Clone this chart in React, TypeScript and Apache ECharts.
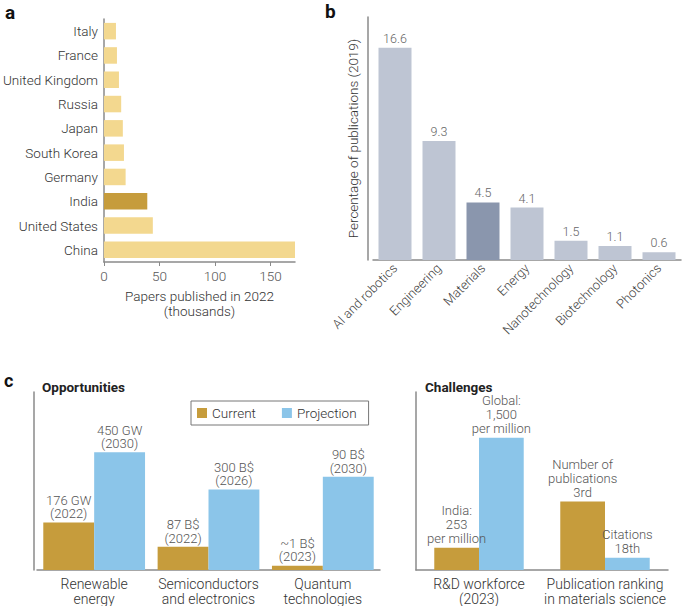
import React, { useEffect, useRef } from "react";
import * as echarts from "echarts";

// Panel a
const countries = ["Italy", "France", "United Kingdom", "Russia", "Japan", "South Korea", "Germany", "India", "United States", "China"];
const papers2022 = [10.8, 11.7, 13.5, 15.5, 17, 18, 19.5, 39, 44, 172];
const papersTicks = [0, 50, 100, 150];

// Panel b
const fields = ["AI and robotics", "Engineering", "Materials", "Energy", "Nanotechnology", "Biotechnology", "Photonics"];
const pubShare = [16.6, 9.3, 4.5, 4.1, 1.5, 1.1, 0.6];

// Panel c – opportunities (relative bar heights as drawn)
const oppCategories = ["Renewable\nenergy", "Semiconductors\nand electronics", "Quantum\ntechnologies"];
const oppCurrent = [47.7, 23.3, 4.3];
const oppProjection = [118.3, 81, 93.7];
const oppCurrentLabels = ["176 GW\n(2022)", "87 B$\n(2022)", "~1 B$\n(2023)"];
const oppProjectionLabels = ["450 GW\n(2030)", "300 B$\n(2026)", "90 B$\n(2030)"];

// Panel c – challenges (relative bar heights as drawn)
const chalCategories = ["R&D workforce\n(2023)", "Publication ranking\nin materials science"];
const chalFirst = [22.3, 69];
const chalSecond = [133, 12.3];
const chalFirstLabels = ["India:\n253\nper million", "Number of\npublications\n3rd"];
const chalSecondLabels = ["Global:\n1,500\nper million", "Citations\n18th"];

const GOLD = "#C69C3C";
const LIGHT_GOLD = "#F3D88F";
const BLUE = "#8BC5E9";
const GREY_BAR = "#BEC5D3";
const DARK_GREY_BAR = "#8A96AD";
const AXIS = "#8a8a8a";
const FONT = "Roboto";
const W = 300;

export default function App() {
  const ref = useRef<HTMLDivElement>(null);
  useEffect(() => {
    if (!ref.current) return;
    const chart = echarts.init(ref.current, undefined, { renderer: "svg" });
    const axisLine = { show: true, lineStyle: { color: AXIS, width: 1.5 } };
    const valueLbl = { fontFamily: FONT, fontWeight: W, fontSize: 13, color: "#555", lineHeight: 13.5 };
    chart.setOption({
      animation: false,
      textStyle: { fontFamily: FONT, fontWeight: W },
      graphic: [
        { type: "text", style: { text: "a", x: 5, y: 12, font: `bold 19px ${FONT}`, fill: "#111", verticalAlign: "middle" } },
        { type: "text", style: { text: "b", x: 325, y: 11, font: `bold 19px ${FONT}`, fill: "#111", verticalAlign: "middle" } },
        { type: "text", style: { text: "c", x: 4, y: 380, font: `bold 18px ${FONT}`, fill: "#111", verticalAlign: "middle" } },
        { type: "text", style: { text: "Opportunities", x: 42, y: 387, font: `bold 13.5px ${FONT}`, fill: "#222", verticalAlign: "middle" } },
        { type: "text", style: { text: "Challenges", x: 425, y: 387, font: `bold 13.5px ${FONT}`, fill: "#222", verticalAlign: "middle" } },
      ],
      legend: {
        data: ["Current", "Projection"],
        left: 191,
        top: 401,
        orient: "horizontal",
        itemWidth: 10,
        itemHeight: 10,
        itemGap: 26,
        padding: [5, 12, 5, 6],
        borderColor: "#777",
        borderWidth: 1,
        icon: "rect",
        textStyle: { fontFamily: FONT, fontWeight: W, fontSize: 13.5, color: "#333" },
      },
      grid: [
        { left: 103, top: 19, width: 192, height: 243 },
        { left: 373, top: 17, width: 308, height: 243 },
        { left: 37, top: 392, width: 343, height: 179 },
        { left: 416, top: 392, width: 252, height: 179 },
      ],
      xAxis: [
        {
          gridIndex: 0,
          type: "value",
          min: 0,
          max: 172,
          splitLine: { show: false },
          axisLine,
          axisTick: { show: true, length: 4, lineStyle: { color: AXIS }, customValues: papersTicks },
          axisLabel: { customValues: papersTicks, fontSize: 13.5, fontWeight: W, color: "#555", margin: 7 },
          name: "Papers published in 2022\n(thousands)",
          nameLocation: "middle",
          nameGap: 26,
          nameTextStyle: { fontSize: 13.5, fontWeight: W, color: "#333", lineHeight: 15 },
        },
        {
          gridIndex: 1,
          type: "category",
          data: fields,
          axisLine,
          axisTick: { show: false },
          axisLabel: { interval: 0, rotate: 45, fontSize: 13, fontWeight: W, color: "#444", margin: 6 },
        },
        {
          gridIndex: 2,
          type: "category",
          data: oppCategories,
          axisLine,
          axisTick: { show: false },
          axisLabel: { interval: 0, fontSize: 14, fontWeight: W, color: "#333", margin: 6, lineHeight: 15 },
        },
        {
          gridIndex: 3,
          type: "category",
          data: chalCategories,
          axisLine,
          axisTick: { show: false },
          axisLabel: { interval: 0, fontSize: 14, fontWeight: W, color: "#333", margin: 6, lineHeight: 15 },
        },
      ],
      yAxis: [
        {
          gridIndex: 0,
          type: "category",
          data: countries,
          inverse: true,
          axisLine,
          axisTick: { show: false },
          axisLabel: { fontSize: 13.5, fontWeight: W, color: "#333", margin: 6 },
        },
        {
          gridIndex: 1,
          type: "value",
          min: 0,
          max: 19,
          offset: 5,
          splitLine: { show: false },
          axisLine,
          axisTick: { show: false },
          axisLabel: { show: false },
          name: "Percentage of publications (2019)",
          nameLocation: "middle",
          nameGap: 8,
          nameTextStyle: { fontSize: 13.5, fontWeight: W, color: "#333" },
        },
        {
          gridIndex: 2,
          type: "value",
          min: 0,
          max: 179,
          offset: 3,
          splitLine: { show: false },
          axisLine,
          axisTick: { show: false },
          axisLabel: { show: false },
        },
        {
          gridIndex: 3,
          type: "value",
          min: 0,
          max: 179,
          offset: 0,
          splitLine: { show: false },
          axisLine,
          axisTick: { show: false },
          axisLabel: { show: false },
        },
      ],
      series: [
        {
          type: "bar",
          xAxisIndex: 0,
          yAxisIndex: 0,
          barCategoryGap: "32%",
          data: papers2022.map((v, i) => ({
            value: v,
            itemStyle: { color: countries[i] === "India" ? GOLD : LIGHT_GOLD },
          })),
        },
        {
          type: "bar",
          xAxisIndex: 1,
          yAxisIndex: 1,
          barCategoryGap: "25%",
          data: pubShare.map((v, i) => ({
            value: v,
            itemStyle: { color: fields[i] === "Materials" ? DARK_GREY_BAR : GREY_BAR },
          })),
          label: { show: true, position: "top", distance: 3, fontSize: 12.5, fontWeight: W, color: "#666" },
        },
        {
          name: "Current",
          type: "bar",
          xAxisIndex: 2,
          yAxisIndex: 2,
          barGap: "0%",
          barCategoryGap: "11%",
          itemStyle: { color: GOLD },
          data: oppCurrent,
          label: { show: true, position: "top", distance: 2, ...valueLbl, formatter: (p: any) => oppCurrentLabels[p.dataIndex] },
        },
        {
          name: "Projection",
          type: "bar",
          xAxisIndex: 2,
          yAxisIndex: 2,
          barGap: "0%",
          barCategoryGap: "11%",
          itemStyle: { color: BLUE },
          data: oppProjection,
          label: { show: true, position: "top", distance: 2, ...valueLbl, formatter: (p: any) => oppProjectionLabels[p.dataIndex] },
        },
        {
          name: "India / publications",
          type: "bar",
          xAxisIndex: 3,
          yAxisIndex: 3,
          barGap: "0%",
          barCategoryGap: "29%",
          itemStyle: { color: GOLD },
          data: chalFirst,
          label: { show: true, position: "top", distance: 2, ...valueLbl, lineHeight: 14, formatter: (p: any) => chalFirstLabels[p.dataIndex] },
        },
        {
          name: "Global / citations",
          type: "bar",
          xAxisIndex: 3,
          yAxisIndex: 3,
          barGap: "0%",
          barCategoryGap: "29%",
          itemStyle: { color: BLUE },
          data: chalSecond,
          label: { show: true, position: "top", distance: 2, ...valueLbl, lineHeight: 14, formatter: (p: any) => chalSecondLabels[p.dataIndex] },
        },
      ],
    });
    return () => chart.dispose();
  }, []);
  return (
    <div
      ref={ref}
      style={{ position: "fixed", left: 0, top: 0, width: 685, height: 606, background: "#fff" }}
    />
  );
}
